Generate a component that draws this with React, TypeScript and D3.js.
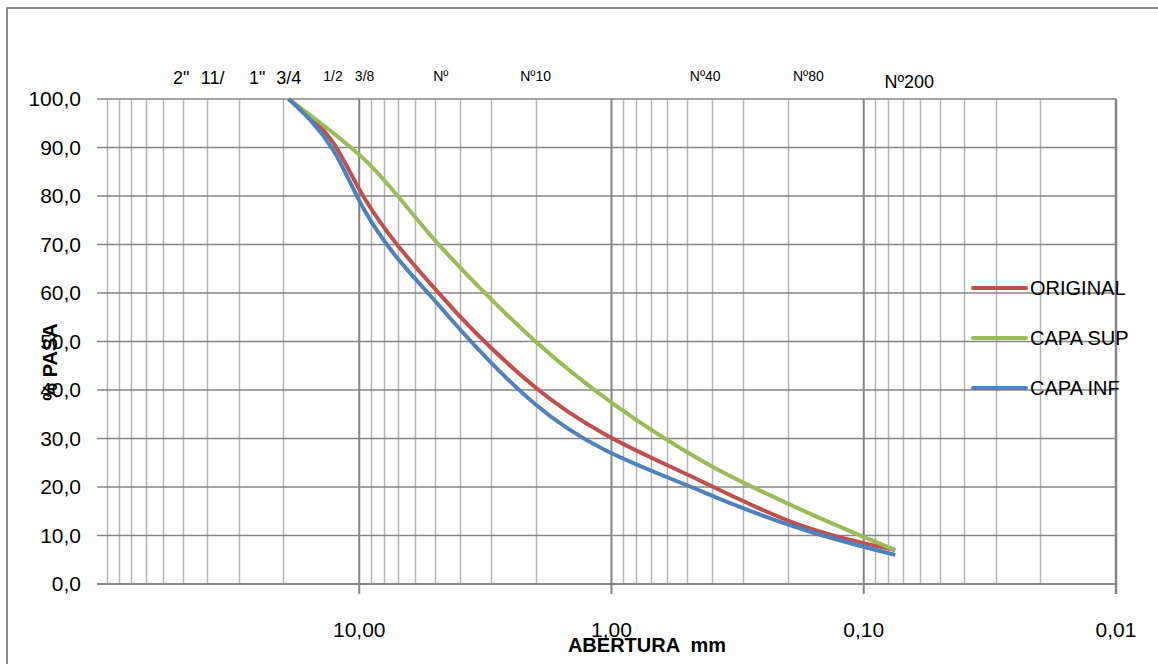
import React, { useEffect, useRef } from 'react';
import * as d3 from 'd3';

// tamices (mm) y rótulos de la parte superior
const sieveLabels = ['2"', '11/', '1"', '3/4', '1/2', '3/8', 'Nº', 'Nº10', 'Nº40', 'Nº80', 'Nº200'];
const sieveSizes = [50.8, 38.1, 25.4, 19.05, 12.7, 9.525, 4.75, 2.0, 0.425, 0.18, 0.075];
const bigLabels = ['2"', '11/', '1"', '3/4', 'Nº200'];

// aberturas de las curvas y % que pasa
const curveSizes = [19.05, 12.7, 9.525, 4.75, 2.0, 0.425, 0.18, 0.075];
const original = [100, 91, 79.5, 59.5, 40.5, 20.8, 12.2, 7];
const capaSup = [100, 93, 87.5, 69.5, 50, 25, 15.5, 7];
const capaInf = [100, 89.5, 77, 57, 37, 18.8, 11.5, 6];

const seriesNames = ['ORIGINAL', 'CAPA SUP', 'CAPA INF'];
const seriesColors = ['#C0504D', '#9BBB59', '#4F81BD'];

const xTicks = [10, 1, 0.1, 0.01];
const yTicks = [0, 10, 20, 30, 40, 50, 60, 70, 80, 90, 100];

const locale = d3.formatLocale({ decimal: ',', thousands: '.', grouping: [3], currency: ['', ''] });

export default function App() {
  const ref = useRef<SVGSVGElement | null>(null);

  useEffect(() => {
    const width = 1158;
    const height = 664;
    const margin = { top: 99, bottom: 80, right: 42, left: 107 };

    const svg = d3.select(ref.current).attr('width', width).attr('height', height);
    svg.selectAll('*').remove();

    // borde del gráfico
    svg.append('rect')
      .attr('x', 7).attr('y', 8)
      .attr('width', 1200).attr('height', 700)
      .attr('fill', 'none')
      .attr('stroke', '#868686')
      .attr('stroke-width', 2);

    const x = d3.scaleLog().domain([100, 0.01]).range([margin.left, width - margin.right]);
    const y = d3.scaleLinear().domain([0, 100]).range([height - margin.bottom, margin.top]);

    // líneas verticales (log)
    const gridVals: number[] = [];
    [-2, -1, 0, 1].forEach(e => {
      for (let k = 1; k <= 9; k++) gridVals.push(k * Math.pow(10, e));
    });
    gridVals.push(100);

    const isMajor = (v: number) => Math.abs(Math.log10(v) - Math.round(Math.log10(v))) < 1e-9;

    svg.append('g').selectAll('line')
      .data(gridVals.filter(v => !isMajor(v) || v === 100))
      .join('line')
      .attr('x1', d => Math.round(x(d)) + 0.5).attr('x2', d => Math.round(x(d)) + 0.5)
      .attr('y1', y(100)).attr('y2', y(0))
      .attr('stroke', '#b4b4b4')
      .attr('stroke-width', 1.5);

    svg.append('g').selectAll('line')
      .data(xTicks)
      .join('line')
      .attr('x1', d => x(d)).attr('x2', d => x(d))
      .attr('y1', y(100)).attr('y2', y(0) + 10)
      .attr('stroke', '#868686')
      .attr('stroke-width', d => (d === 0.01 ? 2.5 : 2));

    // líneas horizontales
    svg.append('g').selectAll('line')
      .data(yTicks)
      .join('line')
      .attr('x1', margin.left - 10).attr('x2', x(0.01))
      .attr('y1', d => y(d)).attr('y2', d => y(d))
      .attr('stroke', '#868686')
      .attr('stroke-width', d => (d === 0 ? 2 : 1.5));

    // rótulos eje Y
    svg.append('g').selectAll('text')
      .data(yTicks)
      .join('text')
      .attr('x', 81)
      .attr('y', d => y(d) + 7)
      .attr('text-anchor', 'end')
      .attr('font-family', 'Liberation Sans, Arial, sans-serif')
      .attr('font-size', 21)
      .attr('fill', '#000')
      .text(d => locale.format('.1f')(d));

    // rótulos eje X
    svg.append('g').selectAll('text')
      .data(xTicks)
      .join('text')
      .attr('x', d => x(d))
      .attr('y', 637)
      .attr('text-anchor', 'middle')
      .attr('font-family', 'Liberation Sans, Arial, sans-serif')
      .attr('font-size', 21)
      .attr('fill', '#000')
      .text(d => locale.format('.2f')(d));

    // rótulos de tamices
    svg.append('g').selectAll('text')
      .data(sieveLabels)
      .join('text')
      .attr('x', (d, i) => x(sieveSizes[i]) + (d === 'Nº200' ? 14 : d === 'Nº80' ? 9 : 0))
      .attr('y', d => (d === 'Nº200' ? 88 : bigLabels.includes(d) ? 84 : 81))
      .attr('text-anchor', 'middle')
      .attr('font-family', 'Liberation Sans, Arial, sans-serif')
      .attr('font-size', d => (bigLabels.includes(d) ? 18 : 14))
      .attr('fill', '#000')
      .text(d => d);

    // curvas
    const allSeries = [original, capaSup, capaInf];
    const line = d3.line<number>()
      .x((d, i) => x(curveSizes[i]))
      .y(d => y(d))
      .curve(d3.curveMonotoneX);

    allSeries.forEach((s, i) => {
      svg.append('path')
        .datum(s)
        .attr('fill', 'none')
        .attr('stroke', seriesColors[i])
        .attr('stroke-width', 4)
        .attr('stroke-linejoin', 'round')
        .attr('d', line);
    });

    // leyenda
    const legend = svg.append('g');
    seriesNames.forEach((name, i) => {
      const ly = 288 + i * 50;
      legend.append('line')
        .attr('x1', 973).attr('x2', 1026)
        .attr('y1', ly).attr('y2', ly)
        .attr('stroke', seriesColors[i])
        .attr('stroke-width', 4)
        .attr('stroke-linecap', 'round');
      legend.append('text')
        .attr('x', 1030).attr('y', ly + 7)
        .attr('font-family', 'Liberation Sans, Arial, sans-serif')
        .attr('font-size', 20)
        .attr('fill', '#000')
        .text(name);
    });

    // títulos de ejes
    svg.append('text')
      .attr('x', 647).attr('y', 652)
      .attr('text-anchor', 'middle')
      .attr('font-family', 'Liberation Sans, Arial, sans-serif')
      .attr('font-size', 20)
      .attr('font-weight', 'bold')
      .style('white-space', 'pre')
      .text('ABERTURA  mm');

    svg.append('text')
      .attr('transform', 'translate(57,362) rotate(-90)')
      .attr('text-anchor', 'middle')
      .attr('font-family', 'Liberation Sans, Arial, sans-serif')
      .attr('font-size', 20)
      .attr('font-weight', 'bold')
      .text('% PASA');
  }, []);

  return (
    <>
      <style>{'body{margin:0;background:#fff}'}</style>
      <svg ref={ref} style={{ display: 'block' }} />
    </>
  );
}
